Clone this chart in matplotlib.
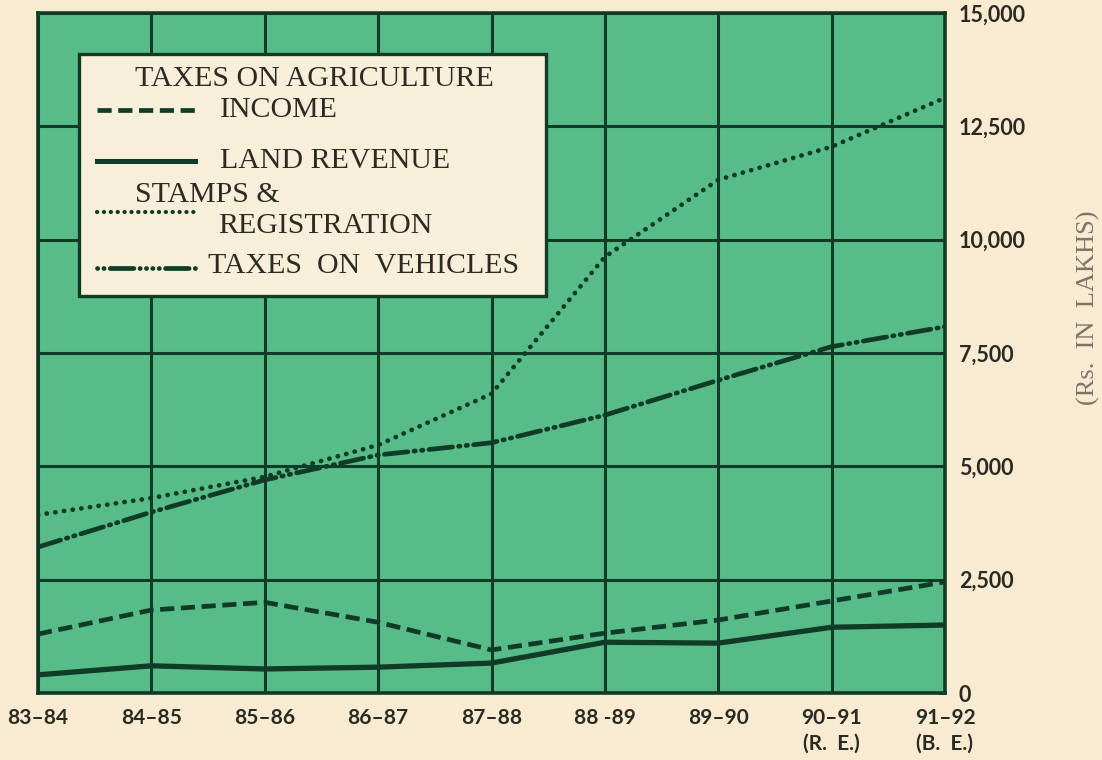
import matplotlib
matplotlib.use("Agg")
import matplotlib.pyplot as plt
from matplotlib.patches import Rectangle

years = ["83–84", "84–85", "85–86", "86–87", "87–88", "88 -89", "89–90", "90–91\n(R.  E.)", "91–92\n(B.  E.)"]
income = [1300, 1830, 2000, 1560, 950, 1320, 1610, 2030, 2450]
land_revenue = [400, 600, 530, 570, 660, 1120, 1100, 1450, 1500]
stamps = [3930, 4300, 4770, 5470, 6600, 9620, 11320, 12050, 13130]
vehicles = [3220, 3990, 4700, 5250, 5520, 6130, 6900, 7640, 8080]
yticks = [0, 2500, 5000, 7500, 10000, 12500, 15000]
ytick_labels = ["0", "2,500", "5,000", "7,500", "10,000", "12,500", "15,000"]

BG = "#f8ebd2"
GREEN = "#58bc88"
DARK = "#0f3b27"

W, H = 1102, 760
fig = plt.figure(figsize=(W / 100, H / 100), dpi=100, facecolor=BG)
L, R, T, B = 38, 945, 13, 693
ax = fig.add_axes([L / W, 1 - B / H, (R - L) / W, (B - T) / H])
ax.set_facecolor(GREEN)

x = list(range(len(years)))
ax.set_xlim(0, len(years) - 1)
ax.set_ylim(0, 15000)

# grid
for v in x:
    ax.axvline(v, color=DARK, lw=2.2, zorder=1)
for v in yticks:
    ax.axhline(v, color=DARK, lw=2.2, zorder=1)

lw = 3.4
ax.plot(x, income, color=DARK, lw=lw, linestyle=(0, (3.0, 1.4)), dash_capstyle="butt", zorder=3)
ax.plot(x, land_revenue, color=DARK, lw=lw + 0.4, linestyle="-", zorder=3)
ax.plot(x, stamps, color=DARK, lw=lw, linestyle=(0, (0.05, 1.8)), dash_capstyle="round", zorder=3)
ax.plot(x, vehicles, color=DARK, lw=lw, linestyle=(0, (5.0, 1.3, 0.3, 1.3, 0.3, 1.3)),
        dash_capstyle="round", zorder=3)

for s in ax.spines.values():
    s.set_color(DARK)
    s.set_linewidth(2.6)

ax.set_xticks(x)
ax.set_xticklabels(years, fontsize=15, fontweight="bold", family="Lato", color="#2a2a22",
                   linespacing=1.35)
ax.tick_params(axis="x", length=0, pad=11)
ax.yaxis.tick_right()
ax.set_yticks(yticks)
ax.set_yticklabels(ytick_labels, fontsize=15.5, fontweight="bold", family="Lato", color="#2a2a22")
ax.tick_params(axis="y", length=4, width=2, color=DARK, direction="in", pad=10)
for lbl in ax.get_yticklabels():
    lbl.set_horizontalalignment("left")

fig.text(1088 / W, 1 - 308 / H, "(Rs.  IN  LAKHS)", rotation=90, ha="center", va="center",
         fontsize=19, family="Liberation Serif", color="#7d7466")


def axc(px, py):
    return (px - L) / (R - L), (B - py) / (B - T)


x0, y0 = axc(79, 296)
x1, y1 = axc(546, 54)
ax.add_patch(Rectangle((x0, y0), x1 - x0, y1 - y0, transform=ax.transAxes, facecolor="#f7efd9",
                       edgecolor=DARK, lw=2.4, zorder=6, clip_on=False))

serif = dict(family="Liberation Serif", fontsize=21.5, color="#2c2a22", transform=ax.transAxes,
             zorder=7, va="center", ha="left")
ax.text(*axc(135, 79), "TAXES ON AGRICULTURE", **serif)
ax.text(*axc(220, 110), "INCOME", **serif)
ax.text(*axc(220, 161), "LAND REVENUE", **serif)
ax.text(*axc(135, 195), "STAMPS &", **serif)
ax.text(*axc(218, 226), "REGISTRATION", **serif)
ax.text(*axc(208, 266), "TAXES  ON  VEHICLES", **serif)

def sample(py, **kw):
    xa, ya = axc(97, py)
    xb, _ = axc(195, py)
    ax.plot([xa, xb], [ya, ya], transform=ax.transAxes, color=DARK, zorder=7, clip_on=False, **kw)

sample(110, lw=3.4, linestyle=(0, (3.0, 1.4)), dash_capstyle="butt")
sample(161, lw=3.6, linestyle="-")
sample(212, lw=3.0, linestyle=(0, (0.05, 1.6)), dash_capstyle="round")
sample(268, lw=3.4, linestyle=(0, (0.05, 1.3, 0.05, 1.3, 5.0, 1.3, 0.05, 1.3, 0.05, 1.3)),
       dash_capstyle="round")

fig.savefig("out.png", dpi=100, facecolor=BG)
